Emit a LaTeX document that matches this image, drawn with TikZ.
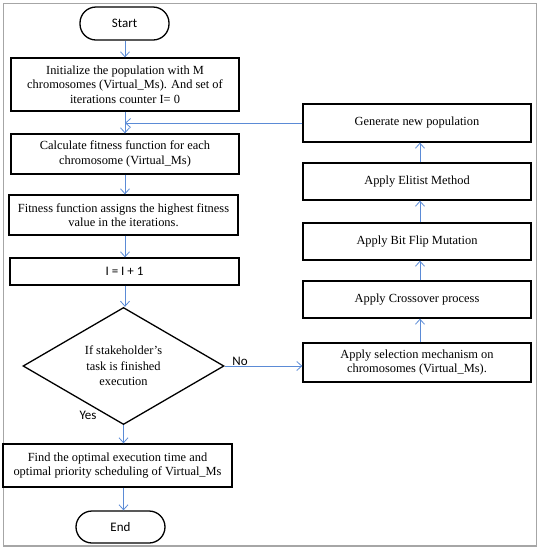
\documentclass[tikz,border=0pt]{standalone}
\usepackage{fontspec}
\setmainfont{Liberation Serif}
\newfontfamily\calib{Carlito}
\usetikzlibrary{shapes.geometric,arrows.meta}
\definecolor{arrowblue}{HTML}{5B8BD6}
\definecolor{framegray}{HTML}{A6A6A6}
\tikzset{
  box/.style={draw=black,line width=1.3pt,minimum width=228pt,align=center,inner sep=2pt,font=\fontsize{12.4}{14.5}\selectfont},
  term/.style={draw=black,line width=1.3pt,rounded corners=16pt,minimum width=89pt,minimum height=33pt,font=\calib\fontsize{13}{15}\selectfont},
  flow/.style={draw=arrowblue,line width=0.8pt,-{Straight Barb[length=5pt,width=9pt]}},
  lbl/.style={font=\calib\fontsize{13}{15}\selectfont,inner sep=0pt}
}
\begin{document}
\begin{tikzpicture}[x=1pt,y=-1pt]
\useasboundingbox (0,0) rectangle (541,550);
\draw[framegray,line width=1.3pt] (3.5,3.5) rectangle (536.5,546);
% left column
\node[term] (start) at (124.5,23.5) {Start};
\node[box,minimum height=53pt] (init) at (125,84.5) {Initialize the population with M\\chromosomes (Virtual\_Ms). And set of\\iterations counter I= 0};
\node[box,minimum height=40pt] (calc) at (125,154) {Calculate fitness function for each\\chromosome (Virtual\_Ms)};
\node[box,minimum height=40pt,minimum width=229pt] (fit) at (123.5,215) {Fitness function assigns the highest fitness\\value in the iterations.};
\node[box,minimum height=27pt,minimum width=229pt,font=\calib\fontsize{13}{15}\selectfont] (inc) at (124.5,271.5) {I = I + 1};
\node[draw=black,line width=1.3pt,diamond,minimum width=201pt,minimum height=115pt,inner sep=0pt,align=center,font=\fontsize{12.4}{15.5}\selectfont] (dec) at (123.5,366) {If stakeholder’s\\task is finished\\execution};
\node[box,minimum height=43pt,minimum width=229pt] (find) at (117.5,465.5) {Find the optimal execution time and\\optimal priority scheduling of Virtual\_Ms};
\node[term,minimum height=32pt] (end) at (120.5,527) {End};
% right column
\node[box,minimum height=38pt] (gen) at (417,123) {Generate new population};
\node[box,minimum height=37pt] (elit) at (417,181.5) {Apply Elitist Method};
\node[box,minimum height=37pt] (bit) at (417,241.5) {Apply Bit Flip Mutation};
\node[box,minimum height=37pt] (cross) at (417,299.5) {Apply Crossover process};
\node[box,minimum height=39pt] (sel) at (417,362.5) {Apply selection mechanism on\\chromosomes (Virtual\_Ms).};
% connectors
\coordinate (cx) at (125,0);
\coordinate (rx) at (420,0);
\draw[flow] (start.south -| cx) -- (init.north -| cx);
\draw[flow] (init.south -| cx) -- (calc.north -| cx);
\draw[flow] (calc.south -| cx) -- (fit.north -| cx);
\draw[flow] (fit.south -| cx) -- (inc.north -| cx);
\draw[flow] (inc.south -| cx) -- (dec.north -| cx);
\draw[flow] (dec.south) -- (find.north -| dec.south);
\draw[flow] (find.south -| dec.south) -- (end.north -| dec.south);
\draw[flow] (sel.north -| rx) -- (cross.south -| rx);
\draw[flow] (cross.north -| rx) -- (bit.south -| rx);
\draw[flow] (bit.north -| rx) -- (elit.south -| rx);
\draw[flow] (elit.north -| rx) -- (gen.south -| rx);
\draw[flow] (gen.west) -- (gen.west -| cx);
\draw[flow] (dec.east) -- (dec.east -| sel.west);
\node[lbl] (no) at (240,361) {No};
\node[lbl] (yes) at (88,415) {Yes};
\end{tikzpicture}
\end{document}
